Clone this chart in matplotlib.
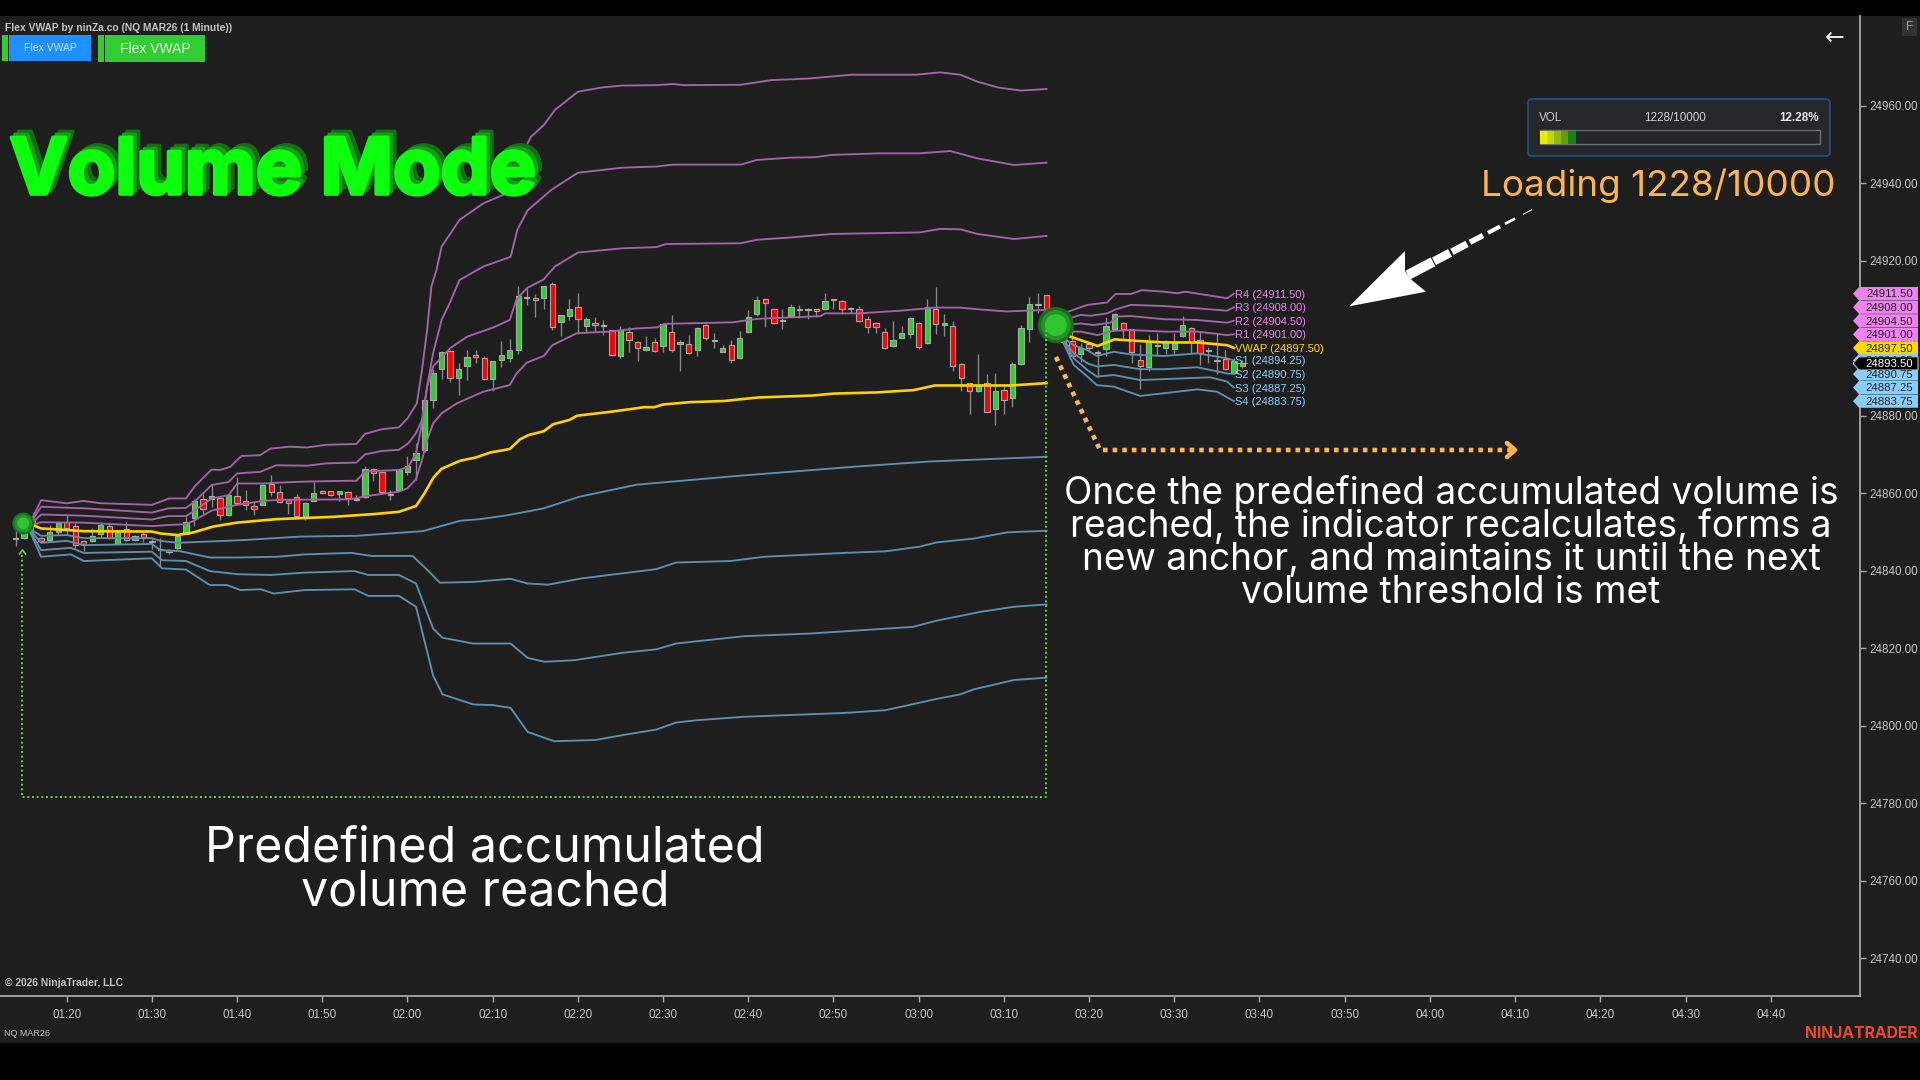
import matplotlib
matplotlib.use("Agg")
import matplotlib.pyplot as plt
import matplotlib.transforms as mtrans
import matplotlib.patheffects as pe
from matplotlib.patches import Polygon, Rectangle, FancyBboxPatch

# ---------- data ----------
BASE = 24000
time_ticks = ["01:20","01:30","01:40","01:50","02:00","02:10","02:20","02:30","02:40","02:50","03:00",
              "03:10","03:20","03:30","03:40","03:50","04:00","04:10","04:20","04:30","04:40"]
price_ticks = [24740,24760,24780,24800,24820,24840,24860,24880,24900,24920,24940,24960]
first_bar_minute = 74   # 01:14

bar_open = [848.5,848.5,853.25,848.5,848,850,852.5,851.5,847.75,847.75,
 849.5,851.5,847,850.75,848,849.5,847.75,845.5,845.25,845.75,
 849.5,853.5,858.5,858.5,858.75,854.25,859.25,858,856.75,857,
 862.5,860.25,858.25,859,853.75,858,860.5,860.5,859.75,860.25,
 858.5,859,866.25,865.5,859.75,860.75,865.5,868.5,871.25,884,
 892,896.75,889.75,892.75,895.75,895,889.5,894.25,895,897,
 910.75,910.25,910.25,914,904.25,905.75,908,903.25,904,903.5,
 902,895.5,901.5,899,897,899,898,901.5,898.5,898.5,
 897,903.5,899.5,896.5,898.25,895,901.5,906.25,910,907.5,
 904.75,905.75,907.5,907.5,907.5,907.5,910,909.5,907.75,907.5,
 905,904,901.5,898,900,901,904,898.75,907.5,903.5,
 903.25,893.25,888.5,886.25,888.5,881.75,886.75,884.5,893.25,902.25,
 908.75,911.25,902.5,900.5,899.25,896,898.5,896.5,897.25,902.25,
 904,902.5,894.5,892.5,898.25,897.5,897.25,900.5,902.75,899.5,
 897,894.5,894.75,891,892.75]
bar_high = [850.75,855,853.5,848.75,851.75,852.5,854.5,852.25,848,851,
 852.5,852,850,852.5,849.25,850,848.5,848.5,845.5,849.25,
 854,858.5,859.75,862,859,859.75,864.25,860.75,858,862.25,
 864.75,862,858.25,859.75,857.75,863,860.75,860.5,860.5,860.5,
 859.5,867,866.5,865.5,860.75,866,869.5,873,884,892,
 896.75,897,893.5,897,897,895.5,894,899.25,899.75,913.5,
 913,911.5,913.5,914.5,906,910,911.75,905.5,905.5,904.75,
 902,903.25,903,899.25,900.5,900,904,906,899.5,900.75,
 903,903.75,901.25,898.25,899.5,901.75,907.25,911,910.25,907.5,
 907.5,908.75,908.5,907.75,907.5,911.75,910,909.75,908,908.25,
 905.75,904.25,902.75,904.5,903.25,905.5,904.25,910,913.25,906.25,
 904.5,893.5,888.5,896,890.75,891,888,893.75,903.5,910.75,
 911.75,911.25,907.25,901.25,901.75,898.75,899,897,905.5,906.5,
 904.25,902.5,898.5,900.75,901.25,899.5,901.25,905.75,903,901.75,
 897.75,901.25,897,895,894.5]
bar_low = [846.25,848.25,849.25,847.25,847.5,849.25,849.5,845.75,845,847.5,
 848.5,848.25,847,847.75,847.75,847.5,845.5,841,844.25,845.25,
 849.5,851.5,854.75,856.5,853,854,857.5,855.75,854.5,857,
 859.25,857.5,854.75,853.75,853,858,859.75,859.25,858,857,
 858,858.75,863.25,860,858.25,860.75,864.75,863.5,870.75,882,
 889.5,888.75,885.25,889.25,893.5,889.25,886.5,892.5,893.75,896,
 908.5,905.5,907.5,902,900.5,904.75,901,901.25,901.5,900.75,
 895.5,895,896.5,894,896.75,896.5,896.5,896.5,891.5,896,
 895.5,899.5,897.5,896.5,893.5,894.75,901.25,905.75,903,903.75,
 902.5,905.5,905.25,905,905.5,907.25,907.5,906.25,906.5,904.25,
 901.25,901.25,897.25,897.75,900,900,897.25,898.5,901,900.5,
 891.5,886.25,880.5,886,881,877.5,880.5,882.25,893,899,
 906.5,902,901.25,898.75,895.5,893.75,896.75,890,895.5,902,
 900,893.5,887,891.5,895.5,896,896,900.25,896,893,
 893.5,890.75,891.75,890.75,892.25]
bar_close = [848.25,853.5,852.25,847.75,850,852.25,851,846.75,846.75,849,
 851.75,848.5,850,848,849,848.75,847.5,845.25,844.75,849,
 852.5,858,856,859.25,854.5,859.5,857.5,857,856,862,
 860.25,857.75,857.5,854,857.5,860,860,859.5,860.5,858.75,
 858.25,866.25,865.25,860.25,859.5,866,867,870.5,884,891,
 896.5,889.75,892,895.25,895.25,889.5,894,895.75,897,911,
 910.5,909.75,913.5,903,906,907.5,905,905,903.5,903.25,
 895.75,902,899.5,897.5,897.75,896.75,903.75,897,899,896.25,
 902.75,900,899.25,897.5,894.5,900,905.5,909.75,909,904,
 904.5,908,907.25,907.25,907,909.5,909.75,907.5,907.5,904.5,
 903,903,897.5,899.5,901.25,905.25,897.75,908,903.75,904,
 892.75,889.75,886.25,888,881,886.5,884,893.25,902.75,908.75,
 908.5,904.75,905.5,899,895.5,897.5,897.5,896.25,903.25,906.25,
 902.5,896.5,892.75,899.25,898,899.25,899,903.5,899,896.25,
 896.75,894,892,894,893.5]

# first anchor period: (minute, offset price)
r4_t = [75.5,77,80,82,84,90,91,92,94,95,97,98,99.2,100.5,102.7,103.9,106.2,108.2,110.5,114,115,117,119,120,121.1,121.7,122.3,122.8,123.4,124,126.1,128.9,132.1,133.7,134.5,136,137.3,140,142.8,145.2,149.2,151.2,152.4,159.1,162.7,167,172.2,179.7,182.5,184.9,186.9,189.3,192,195]
r4_v = [851.5,858.2,857.4,858,857.4,857,857.8,858.65,858.65,861.7,866.1,866,866.8,869.6,869.8,871.5,872,871.8,872.5,872.7,875.3,876.5,877,879.3,883.2,891.8,902.1,913.3,917.6,923.6,930.5,934.8,937.8,948.6,952,955,958.9,963.6,964.7,965.2,965.3,965.6,965.3,965.4,966.6,967,968,968,968.6,968,966.2,964.7,963.9,964.3]
r3_t = [75.5,77,82,90,92,94,95,97,99,100,102.7,104.6,108.2,110.5,114,115,117,119,120.1,121,121.7,122.3,123,124,125,126.1,128.9,132.1,132.9,134.1,136.9,140,145.2,149.2,151.2,159.1,161,165,167.8,169.8,175.3,180.1,183.7,186.9,191.2,195]
r3_v = [851.5,856.5,856.1,855,856.1,856.2,857.8,862.1,862.9,865.1,865.5,867.2,867.1,867.7,867.9,870,870.9,871.2,872.9,875.5,878.9,887.5,896.1,904.7,909.3,915,918.5,921,928,933,938.3,942.7,944,944.3,944.8,944.8,946,946.6,946.7,947.3,947.7,947.7,948.3,946.4,944.7,945.3]
r2_t = [75.5,77,82,90,91,92,94,95,97,99,100,103,104.6,108,113,114,115,119,120.1,121,121.7,122.3,123,125,127,130.1,132,132.8,134,136,137.3,140,145.2,149.2,150.3,159.1,161,165,169.8,180.1,182.5,184.9,186.9,191.2,195]
r2_v = [851.5,854.5,854.2,853.2,853.7,854.1,854.1,855.5,858.6,859.5,862.5,862.5,862.7,863,863.2,863.2,865.6,866,866.8,870.3,878,887.5,892.7,897.4,900.4,902.8,904.7,910,912.9,915.2,918.5,922.1,923.2,923.5,924.3,924.5,925.4,926,926.9,927.3,928.2,928.1,926.9,925.6,926.4]
r1_t = [75.5,77,82,90,92,94,95,97,99,100,103,105,113,114,115,119,120,121,121.7,122.3,123,124,125.8,128.9,132,132.8,134,136,137,139.9,143.8,146.8,149.3,150.2,158.2,161.1,168.5,169,173,175,177.9,181.9,184.8,187.3,190.3,195]
r1_v = [851.5,852.5,852.4,851.5,851.8,852,853,855.5,856.5,857,858,858.3,858.4,858.7,859.2,860.4,861.3,863.6,868.6,873.7,878,880.6,883.2,886.2,887.9,890.9,893.7,895.4,898.2,901.3,901.7,902.5,902.8,903.7,904.1,905,905.7,906.4,906.4,906.7,907.1,907.9,907.9,907.4,906.9,907.3]
vwap_t = [75.5,76,77,80,82,90,91,93,94.9,97.2,100,104.6,111.3,116,119,121,122,123,124,126.2,128,129.7,132,133.2,134.2,136,137.1,139,139.9,143.8,147.8,149,150,153.2,157.2,161.1,167.5,170,175,179.4,181.9,190.8,195]
vwap_v = [852,851.8,850.9,850.5,850.2,850.1,849.6,849.2,849.9,851.4,852.4,853.3,853.9,854.6,855.2,856.7,860,863.9,866.3,868.4,869.2,870.5,871.4,873.9,875,876,877.8,878.9,880,881,882.2,882.2,882.9,883.5,883.8,884.7,885.2,885.7,886,886.6,887.8,887.8,888.4]
s1_t = [75.5,77,80,82,90,91,93,100.7,107.4,114,121.8,126.2,128.5,131.7,136,140.2,146.9,158.4,172.8,181.4,195]
s1_v = [851,849,849.2,848.4,848.4,847.7,847.2,847.9,848.8,849,850.2,852.9,853.3,854.3,856.1,859.1,862.2,864.4,866.9,868.2,869.4]
s2_t = [75.5,77,80,82,90,91,93,93.6,96.8,100,104.7,107.9,113.4,115.8,120.6,122.2,123.8,127.7,132.1,134.1,136.5,140.4,149.2,151.5,157.9,161.9,171.4,176.1,180.1,182.1,186.5,190.4,195]
s2_v = [851,847.2,847.7,846.6,846.9,845.3,845.1,844.9,843.4,843.4,843.6,844.2,844.6,843.8,843.8,840.5,836.9,837.1,837.9,836.7,836.4,838,840.4,842.1,842.5,843.6,844.6,845,846.2,847.3,848.3,849.9,850.3]
s3_t = [75.5,77,80.5,82,90,91.2,94,96.8,100,104,107.9,113.8,115.4,119,121,123,124.1,127.7,132.1,134.1,136.1,139.6,145.2,149.2,151.5,159.5,167.4,179.3,182.1,187.3,191.2,195]
s3_v = [851,845.3,845.9,844.6,844.9,842.7,842.5,839.9,839.1,838.9,839.5,839.9,838.9,838.9,836.7,825.1,822.7,821.2,821.2,817.5,816.5,816.9,818.8,819.7,821.2,823.1,823.8,825.5,827.1,829.4,830.7,831.3]
s4_t = [75.5,77,80.5,82,90,91.2,94,96.8,98.8,100.4,102.8,104.3,107.9,113.8,115.4,119,121,123,124.1,127.7,130.1,132.1,134.1,137.2,142,145.6,149.2,151.5,153.9,159.5,171.4,176.1,182.1,184.9,186.5,191.2,195]
s4_v = [851,843.6,844.2,842.5,843.2,840.6,840.3,836.3,836.3,835,835.2,834.1,835,835.2,833.5,833.5,830.7,813,808.1,805.5,805.3,804.6,798.4,796,796.3,797.7,799,800.8,801.4,802.3,803.3,804,806.9,808.1,809.4,811.8,812.4]

# second anchor period
r4b_t = [197,199,199.8,202.1,203.1,204.9,206.2,208.8,210.3,211.3,213.9,216.2,217]
r4b_v = [906.4,908,908.6,909.2,911.4,911.4,912.4,912,911.6,912,911.1,910.3,911.5]
r3b_t = [197,199,200.2,202.1,203.1,204.9,208.8,212.7,216.2,217]
r3b_v = [904.7,906,905.8,906.4,907.4,908.6,908.3,907.7,907.1,908]
r2b_t = [197,199,200.5,202.5,203.3,204.9,208.8,212.7,216.2,217]
r2b_v = [903.4,903.8,903.4,904,905.6,905.7,904.9,904.7,904,904.5]
r1b_t = [197,199,201,202.9,204.9,208.8,212.7,216.2,217]
r1b_v = [901.7,901.7,900.8,901.9,902.1,901.7,901.7,900.8,901]
vwapb_t = [197,199,201,203,204.9,208.8,212.7,216.2,217]
vwapb_v = [901,899.5,898,899.7,899.4,898.9,898.9,898.2,897.5]
s1b_t = [197,198.2,199.8,200.9,202.9,204.9,208.8,212.7,216.2,217]
s1b_v = [900,898.2,896.9,895.4,896.5,895.8,895.4,896.1,894.8,894.25]
s2b_t = [197,198.2,199.8,200.9,202.9,206,208.8,212.7,216.2,217]
s2b_v = [899.5,896.1,893.5,892.7,893.1,892,892,892.5,890.9,890.75]
s3b_t = [197,198.2,199.8,200.9,202.9,206,210.7,214.2,216.2,217]
s3b_v = [899.1,894.8,891.8,890.1,890.5,889.2,889.6,889.9,888.8,887.25]
s4b_t = [197,198.2,199.8,200.9,202.9,206,208.8,212.7,215,217]
s4b_v = [898.7,893.1,890.1,887.9,887.5,885.1,885.8,886.8,886.2,883.75]

level_names = ["R4","R3","R2","R1","VWAP","S1","S2","S3","S4"]
level_values = [24911.50,24908.00,24904.50,24901.00,24897.50,24894.25,24890.75,24887.25,24883.75]
current_price = 24893.50
anchor_a = (74.9, 852.2)
anchor_b = (196.1, 903.4)

# ---------- colours ----------
BG = "#1e1e1e"; UP = "#32cd32"; DOWN = "#ff0000"; OUT = "#a8a8a8"; WICK = "#8a8a8a"
RCOL = "#a463a8"; SCOL = "#5f8fae"; VW = "#ffd200"; VIOLET = "#ee82ee"; SKY = "#87cefa"
GOLD = "#ffd700"; ORANGE = "#ffb54d"; DOT = "#6fd03c"; AXC = "#a8a8a8"; TXT = "#c4c4c4"

W, H = 1920, 1080
fig = plt.figure(figsize=(W/100, H/100), dpi=100, facecolor="black")
L, R, T, B = 0, 1860, 16, 996
ax = fig.add_axes([L/W, 1-B/H, (R-L)/W, (B-T)/H], facecolor=BG, zorder=2)
fig.patches.append(Rectangle((1860/W, 1-1043/H), 60/W, (1043-16)/H, transform=fig.transFigure, fc=BG, ec="none", zorder=-1))
fig.patches.append(Rectangle((0, 1-1043/H), 1, (1043-996)/H, transform=fig.transFigure, fc=BG, ec="none", zorder=-1))

def t_of(px): return 80 + (px-66.7)/8.52
def p_of(py): return 24960 - (py-105.7)/3.875

# candles
for i, (o, h, l, c) in enumerate(zip(bar_open, bar_high, bar_low, bar_close)):
    t = first_bar_minute + i
    ax.vlines(t, BASE+l, BASE+h, color=WICK, lw=0.95, zorder=2)
    col = UP if c > o else DOWN
    if abs(c-o) < 0.4:
        col = OUT
    ax.bar(t, abs(c-o), bottom=BASE+min(o, c), width=0.62, color=col, edgecolor=OUT, linewidth=0.8, zorder=3)

# bands
for tt, vv in [(r4_t,r4_v),(r3_t,r3_v),(r2_t,r2_v),(r1_t,r1_v),(r4b_t,r4b_v),(r3b_t,r3b_v),(r2b_t,r2b_v),(r1b_t,r1b_v)]:
    ax.plot(tt, [BASE+v for v in vv], color=RCOL, lw=1.35, zorder=4, solid_joinstyle="round")
for tt, vv in [(s1_t,s1_v),(s2_t,s2_v),(s3_t,s3_v),(s4_t,s4_v),(s1b_t,s1b_v),(s2b_t,s2b_v),(s3b_t,s3b_v),(s4b_t,s4b_v)]:
    ax.plot(tt, [BASE+v for v in vv], color=SCOL, lw=1.35, zorder=4, solid_joinstyle="round")
for tt, vv in [(vwap_t,vwap_v),(vwapb_t,vwapb_v)]:
    ax.plot(tt, [BASE+v for v in vv], color=VW, lw=1.9, zorder=5, solid_joinstyle="round")

# anchors
for (at, ap), radii in [(anchor_a, (11, 9, 6)), (anchor_b, (18, 15, 11))]:
    for rad, col in zip(radii, ("#1a6e1a", "#23932b", "#2fc62f")):
        ax.scatter([at], [BASE+ap], s=(2*rad*0.72)**2, color=col, edgecolor="none", zorder=6)

# axes
ax.set_xlim(t_of(0), t_of(1860))
ax.set_ylim(p_of(996), p_of(16))
ax.set_xticks([80+10*i for i in range(len(time_ticks))])
ax.set_xticklabels(time_ticks)
ax.set_yticks(price_ticks)
ax.set_yticklabels([f"{p:.2f}" for p in price_ticks])
ax.yaxis.tick_right()
for s in ("top", "left"):
    ax.spines[s].set_visible(False)
for s in ("bottom", "right"):
    ax.spines[s].set_color(AXC); ax.spines[s].set_linewidth(1.3)
ax.tick_params(axis="x", colors=AXC, length=4, width=1, pad=5.5, labelsize=8.4, labelcolor=TXT)
ax.tick_params(axis="y", colors=AXC, length=4, width=1, pad=3, labelsize=8.4, labelcolor=TXT)
for lab in ax.get_xticklabels()+ax.get_yticklabels():
    lab.set_family("Liberation Sans")

# level labels
for name, val in zip(level_names, level_values):
    col = GOLD if name == "VWAP" else (VIOLET if name[0] == "R" else SKY)
    ax.text(first_bar_minute+143.15, val-0.25, f"{name} ({val:.2f})", color=col, fontsize=8.0, va="center",
            family="Liberation Sans", zorder=7, clip_on=True)

# overlay in pixel space
ov = fig.add_axes([0, 0, 1, 1], facecolor="none", zorder=10)
ov.set_xlim(0, W); ov.set_ylim(H, 0); ov.axis("off")
blend = mtrans.blended_transform_factory(ov.transData, ax.transData)

def flag(val, fc, tc, ec="none"):
    h = 6.6/3.875
    ov.add_patch(Polygon([(1853, val), (1859, val+h), (1918, val+h), (1918, val-h), (1859, val-h)],
                         closed=True, fc=fc, ec=ec, lw=0.8, transform=blend, clip_on=False))
    ov.text(1913, val-0.2, f"{val:.2f}", color=tc, fontsize=8.2, ha="right", va="center", family="Liberation Sans", transform=blend)
for name, val in zip(level_names, level_values):
    flag(val, GOLD if name == "VWAP" else (VIOLET if name[0] == "R" else SKY), "#222222")
flag(current_price, "#000000", "#ffffff", ec="#b0c0d0")

# green dotted frame
ov.plot([22, 22, 1046, 1046], [555, 797, 797, 330], color=DOT, lw=1.4, ls=(0, (1, 1.4)))
ov.plot([19.5, 22.5, 25.5], [554, 550, 554], color=DOT, lw=1.2)

# orange dotted arrow
ov.plot([1056, 1100, 1512], [357, 450, 450], color=ORANGE, lw=3.3, ls=(0, (1, 1.1)))
ov.plot([1507, 1515, 1507], [443, 450, 457], color=ORANGE, lw=3.3, solid_capstyle="round")

# white arrow
ov.add_patch(Polygon([(1349.3, 306.3), (1405, 251), (1405, 271), (1411.7, 280), (1426, 291.7)], closed=True, fc="white", ec="none"))
for x0, x1, w in [(1408, 1433, 10), (1434, 1450, 8.5), (1452, 1467, 7), (1470, 1483, 5.5), (1488, 1500, 4), (1505, 1515, 2.6), (1523, 1532, 1.1)]:
    sl = -0.527
    ov.plot([x0, x1], [275+(x0-1408)*sl, 275+(x1-1408)*sl], color="white", lw=w*0.72, solid_capstyle="butt")

# captions
big = ["Inter", "DejaVu Sans"]
for dx, dy, col in [(7, -6, "#136f13"), (3.5, -3, "#1c9a1c"), (0, 0, "#0cff0c")]:
    ov.text(273+dx, 194+dy, "Volume Mode", color=col, fontsize=56, fontweight="bold", ha="center", va="baseline", family=big,
            path_effects=[pe.withStroke(linewidth=2.6, foreground=col)])
ov.text(1658, 186, "Loading 1228/10000", color=ORANGE, fontsize=26.5, ha="center", va="center", family=big)
for y, s in zip([491, 524, 557, 590],
                ["Once the predefined accumulated volume is",
                 "reached, the indicator recalculates, forms a",
                 "new anchor, and maintains it until the next",
                 "volume threshold is met"]):
    ov.text(1451, y+3, s, color="white", fontsize=26.7, ha="center", va="center", family=big)
for y, s in zip([845, 888], ["Predefined accumulated", "volume reached"]):
    ov.text(485, y+4, s, color="white", fontsize=34.8, ha="center", va="center", family=big)

# header
ui = "Liberation Sans"
ov.text(5, 28, "Flex VWAP by ninZa.co (NQ MAR26 (1 Minute))", color=TXT, fontsize=7.4, va="center", family=ui, fontweight="bold")
ov.add_patch(Rectangle((2, 35), 6, 26, fc=UP, ec="none"))
ov.add_patch(Rectangle((9, 35), 82, 26, fc="#1e90ff", ec="none"))
ov.text(50, 48, "Flex VWAP", color="#d5e5f5", fontsize=7.5, ha="center", va="center", family=ui)
ov.add_patch(Rectangle((98, 35), 6, 27, fc=UP, ec="none"))
ov.add_patch(Rectangle((105, 35), 100, 27, fc=UP, ec="none"))
ov.text(155, 49, "Flex VWAP", color="#dff5df", fontsize=10, ha="center", va="center", family=ui)

# volume box
ov.add_patch(FancyBboxPatch((1530, 101), 298, 53, boxstyle="round,pad=2,rounding_size=4", fc="#25272b", ec="#1f4f8a", lw=1.2))
ov.text(1539, 118, "VOL", color="#cfcfcf", fontsize=8.4, va="center", family=ui)
ov.text(1675, 118, "1228/10000", color="#cfcfcf", fontsize=8.4, ha="center", va="center", family=ui)
ov.text(1819, 118, "12.28%", color="#e8e8e8", fontsize=8.4, ha="right", va="center", family=ui, fontweight="bold")
ov.add_patch(Rectangle((1539.5, 130), 280, 14, fc="none", ec="#6e6e6e", lw=1))
for x0, x1, c in [(1540, 1547.3, "#e8f000"), (1547.3, 1554, "#c4d800"), (1554, 1561, "#94b810"), (1561, 1568, "#5f9f10"), (1568, 1576, "#1a7f15")]:
    ov.add_patch(Rectangle((x0, 130.5), x1-x0, 13, fc=c, ec="none"))

# chrome
ov.text(1835, 38, "\u2190", color="#e6e6e6", fontsize=17, ha="center", va="center", family="DejaVu Sans")
ov.add_patch(Rectangle((1902, 18), 15, 18, fc="#333333", ec="none"))
ov.text(1909.5, 27, "F", color="#a0a0a0", fontsize=8.5, ha="center", va="center", family=ui)
ov.text(5, 983, "\u00a9 2026 NinjaTrader, LLC", color=TXT, fontsize=7.4, va="center", family=ui, fontweight="bold")
ov.text(4, 1034, "NQ MAR26", color=TXT, fontsize=6.5, va="center", family=ui)
ov.text(1918, 1033, "NINJATRADER", color="#ea4a2c", fontsize=11.3, ha="right", va="center", family=big, fontweight="bold")

fig.savefig("out.png", dpi=100, facecolor="black")
